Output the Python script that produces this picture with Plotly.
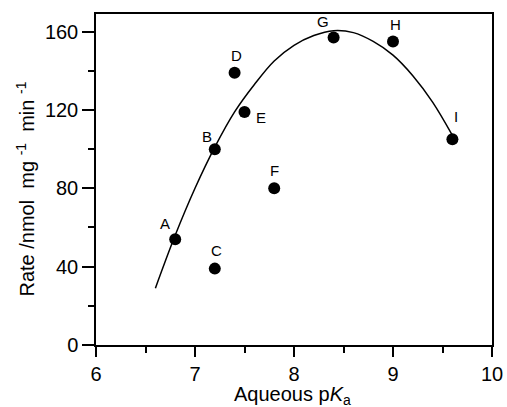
import plotly.graph_objects as go

# Data points
labels = ["A", "B", "C", "D", "E", "F", "G", "H", "I"]
pka = [6.80, 7.20, 7.20, 7.40, 7.50, 7.80, 8.40, 9.00, 9.60]
rate = [54, 100, 39, 139, 119, 80, 157, 155, 105]

# Fitted curve
curve_x = [6.6, 6.8, 7.0, 7.2, 7.4, 7.6, 7.8, 8.0, 8.2, 8.4, 8.6, 8.8, 9.0, 9.2, 9.4, 9.6]
curve_y = [29, 56, 80, 101, 119, 133, 145, 153, 158, 160.5, 159.5, 155, 148, 137.5, 124, 107]

# label offsets (pixels)
label_dx = [-10, -8, 2, 2, 16, 0, -11, 2, 4]
label_dy = [16, 13, 18, 17, -6, 18, 16, 17, 23]

x_title = "Aqueous p<i>K</i><sub>a</sub>"
y_title = "Rate /nmol&nbsp; mg&nbsp;<sup>-1</sup>&nbsp; min&nbsp;<sup>-1</sup>"

font = "Liberation Sans, Arial, sans-serif"

fig = go.Figure()
fig.add_trace(go.Scatter(x=curve_x, y=curve_y, mode="lines",
                         line=dict(color="black", width=1.5, shape="spline"),
                         hoverinfo="skip", showlegend=False))
fig.add_trace(go.Scatter(x=pka, y=rate, mode="markers",
                         marker=dict(color="black", size=12),
                         showlegend=False))

for lab, x, y, dx, dy in zip(labels, pka, rate, label_dx, label_dy):
    fig.add_annotation(x=x, y=y, text=lab, showarrow=False,
                       xshift=dx, yshift=dy,
                       font=dict(family=font, size=15, color="black"))

# axis titles
fig.add_annotation(x=0.495, y=-0.152, xref="paper", yref="paper", text=x_title,
                   showarrow=False, xanchor="center", yanchor="middle",
                   font=dict(family=font, size=20, color="black"))
fig.add_annotation(x=-0.179, y=0.47, xref="paper", yref="paper", text=y_title,
                   showarrow=False, xanchor="center", yanchor="middle", textangle=-90,
                   font=dict(family=font, size=20, color="black"))

fig.update_layout(
    width=507, height=407,
    margin=dict(l=96, r=15, t=14, b=62),
    paper_bgcolor="white", plot_bgcolor="white",
    font=dict(family=font, color="black"),
)
fig.update_xaxes(
    range=[6, 10], tickvals=[6, 7, 8, 9, 10], automargin=False,
    ticks="outside", ticklen=10, tickwidth=1.5, tickcolor="black",
    minor=dict(tickvals=[6.5, 7.5, 8.5, 9.5], ticks="outside", ticklen=6, tickwidth=1.5, tickcolor="black"),
    showline=True, linecolor="black", linewidth=1.5, mirror=True,
    showgrid=False, zeroline=False,
    tickfont=dict(size=20, family=font), ticklabelstandoff=0,
)
fig.update_yaxes(
    range=[0, 169], tickvals=[0, 40, 80, 120, 160], automargin=False,
    ticks="outside", ticklen=12, tickwidth=1.5, tickcolor="black",
    minor=dict(tickvals=[20, 60, 100, 140], ticks="outside", ticklen=6, tickwidth=1.5, tickcolor="black"),
    showline=True, linecolor="black", linewidth=1.5, mirror=True,
    showgrid=False, zeroline=False,
    tickfont=dict(size=20, family=font),
)

fig.write_html("out.html")
